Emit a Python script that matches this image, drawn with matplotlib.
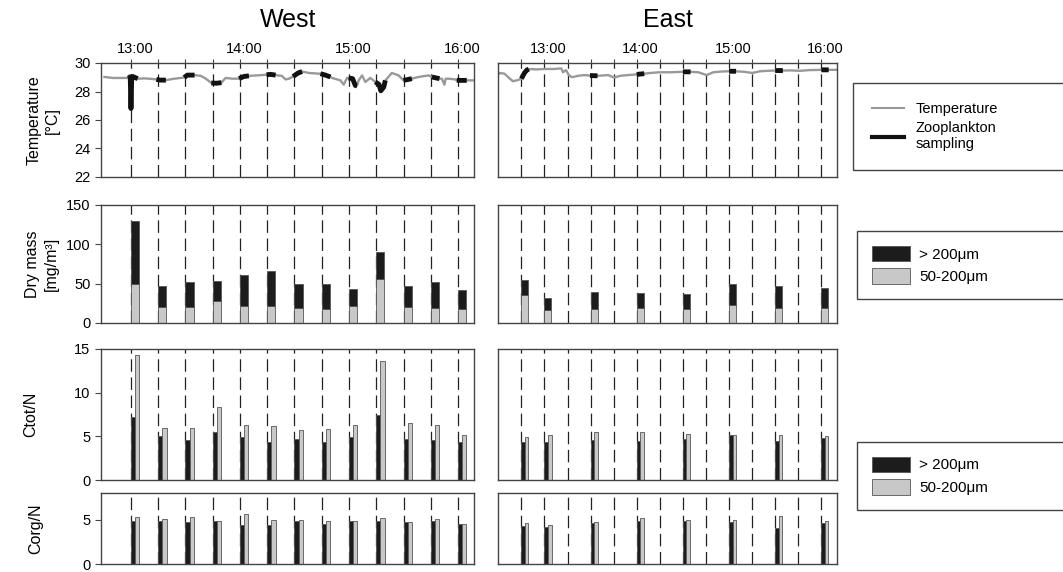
import numpy as np
import matplotlib
matplotlib.use('Agg')
from matplotlib import pyplot as plt
from matplotlib import transforms
from matplotlib.lines import Line2D
from matplotlib.patches import Patch

plt.rcParams['font.family'] = ['Liberation Sans', 'DejaVu Sans']
plt.rcParams['font.size'] = 10

# times in minutes after 12:00
hour_ticks = [60, 120, 180, 240]
hour_labels = ['13:00', '14:00', '15:00', '16:00']
west_grid = [60, 75, 90, 105, 120, 135, 150, 165, 180, 195, 210, 225, 240]
east_grid = [45, 60, 75, 90, 105, 120, 135, 150, 165, 180, 195, 210, 225, 240]
west_samples = [60, 75, 90, 105, 120, 135, 150, 165, 180, 195, 210, 225, 240]
east_samples = [45, 60, 90, 120, 150, 180, 210, 240]
east_tows = [45, 90, 120, 150, 180, 210, 240]   # tows logged on the thermosalinograph
tow_length = 5

# temperature record (deg C)
west_t = [45.4, 50, 55, 58.2, 59.1, 59.6, 60.0, 60.4, 61, 63.7, 68, 74.0, 76, 79.2, 84, 89.3, 91,
          95.0, 98.4, 101.2, 104.2, 107, 109.8, 112.1, 115.8, 119.5, 122, 124.9, 129.5, 134.6,
          137, 139.6, 143, 145.1, 147, 149.2, 152, 154.2, 158, 163.4, 164.3, 167, 169.8, 170.7,
          175.3, 177.1, 178.9, 179.8, 182, 183.5, 184.4, 185.3, 187.2, 189, 191.7, 194.5, 196.5,
          197.5, 199.1, 200, 203.6, 207.3, 210, 214.6, 218.3, 223.8, 225.6, 229.8, 231.1, 232.5,
          233.2, 234.7, 238.4, 239.3, 244.8, 248.5]
west_temp = [29.02, 28.95, 28.95, 28.95, 29.15, 29.0, 26.8, 28.9, 29.05, 28.9, 28.92, 28.85, 28.8,
             28.8, 28.9, 28.98, 29.15, 29.15, 29.1, 28.9, 28.6, 28.58, 28.62, 28.95, 28.9, 28.9,
             29.05, 29.1, 29.13, 29.18, 29.2, 29.15, 29.1, 28.85, 28.9, 29.05, 29.3, 29.4, 29.3,
             29.25, 29.25, 29.15, 29.02, 28.95, 28.78, 28.48, 28.95, 28.95, 28.9, 28.42, 28.4,
             28.78, 29.13, 28.67, 28.95, 28.67, 28.5, 28.05, 28.3, 28.78, 29.3, 29.13, 28.78,
             28.9, 29.02, 29.13, 29.02, 28.9, 28.9, 28.48, 28.9, 28.9, 28.85, 28.78, 28.78, 28.78]
east_t = [30, 31, 34, 37, 39.5, 42.7, 45, 47, 48.5, 49.8, 55, 60, 66, 71, 72, 74, 75.9, 77.9, 81.8,
          85.7, 89.6, 94.5, 101.4, 105.3, 109.2, 114, 120, 124.9, 128.8, 135, 142, 150, 155, 160,
          165.5, 169.8, 175, 180, 184.6, 190, 195.2, 200.2, 205, 210, 215, 220, 226.3, 232, 240,
          244.8, 250]
east_temp = [29.2, 29.3, 29.25, 28.95, 28.72, 28.8, 28.9, 29.3, 29.5, 29.58, 29.55, 29.58, 29.58,
             29.62, 29.35, 29.5, 29.15, 29.0, 29.1, 29.15, 29.12, 29.1, 29.15, 28.98, 29.1, 29.15,
             29.2, 29.25, 29.3, 29.35, 29.35, 29.38, 29.38, 29.35, 29.15, 29.35, 29.4, 29.42, 29.42,
             29.38, 29.3, 29.42, 29.45, 29.47, 29.47, 29.48, 29.45, 29.5, 29.52, 29.52, 29.52]

# dry mass (mg/m3)
west_dm_large = [80, 26.2, 31.6, 26.2, 39.8, 44, 30.9, 30.8, 22, 35.1, 26.6, 32.1, 24.5]
west_dm_small = [50, 20.3, 19.9, 27.5, 21.5, 21.5, 19, 18.2, 21.5, 55.3, 20.7, 19.4, 17.3]
east_dm_large = [19.8, 16.1, 21.6, 19, 19.1, 27.1, 27.9, 25]
east_dm_small = [35.1, 16, 17.7, 19, 17.7, 22.8, 18.6, 19]

# C/N ratios
west_ctot_large = [7.2, 5.0, 4.6, 5.5, 4.9, 4.4, 4.7, 4.4, 4.9, 7.5, 4.7, 4.6, 4.3]
west_ctot_small = [14.3, 6.0, 6.0, 8.4, 6.3, 6.2, 5.7, 5.8, 6.3, 13.6, 6.5, 6.3, 5.2]
east_ctot_large = [4.4, 4.4, 4.6, 4.5, 4.7, 5.1, 4.5, 4.8]
east_ctot_small = [4.9, 5.1, 5.5, 5.5, 5.3, 5.2, 5.1, 5.0]
west_corg_large = [4.8, 4.8, 4.7, 4.8, 4.4, 4.4, 4.9, 4.5, 4.9, 4.8, 4.7, 4.8, 4.5]
west_corg_small = [5.3, 5.1, 5.3, 4.9, 5.6, 5.0, 5.0, 4.8, 4.8, 5.2, 4.7, 5.1, 4.5]
east_corg_large = [4.3, 4.2, 4.6, 4.8, 4.9, 4.7, 4.1, 4.6]
east_corg_small = [4.6, 4.4, 4.7, 5.2, 5.0, 5.0, 5.4, 4.9]

BLACK = '#1c1c1c'
GREY = '#c8c8c8'
EDGE = '#555555'
W, H = 1063, 572


def rect(x0, x1, y0, y1):
    return [x0 / W, 1 - y1 / H, (x1 - x0) / W, (y1 - y0) / H]


fig = plt.figure(figsize=(W / 100, H / 100), dpi=100)

cols = {'west': (101, 474, (43.5, 248.8), west_grid),
        'east': (498, 837, (29.8, 250.2), east_grid)}
rows = [(63, 177), (205, 323), (349, 480), (493, 564)]

# hour labels sit a few pixels right of their tick
label_shift = transforms.ScaledTranslation(4 / 100, 0, fig.dpi_scale_trans)

axes = {}
for side, (x0, x1, xlim, grid) in cols.items():
    for i, (y0, y1) in enumerate(rows):
        ax = fig.add_axes(rect(x0, x1, y0, y1))
        ax.set_xlim(*xlim)
        for t in grid:
            ax.axvline(t, color='#222222', lw=0.9, ls=(0, (10, 4.5)), zorder=0)
        for s in ax.spines.values():
            s.set_color('#444444')
            s.set_linewidth(1.0)
        ax.tick_params(axis='y', length=4, width=0.8, color='#444444', labelsize=10.5)
        if i == 0:
            ax.xaxis.tick_top()
            ax.set_xticks(grid)
            ax.set_xticklabels([hour_labels[hour_ticks.index(t)] if t in hour_ticks else '' for t in grid])
            ax.tick_params(axis='x', length=3, width=0.8, color='#444444', labelsize=10.5, pad=2)
            for lab in ax.get_xticklabels():
                lab.set_transform(lab.get_transform() + label_shift)
        else:
            ax.set_xticks([])
        if side == 'east':
            ax.set_yticks([])
        axes[(side, i)] = ax


def draw_temp(ax, t, temp, tows):
    t = np.array(t)
    temp = np.array(temp)
    ax.plot(t, temp, color='#999999', lw=1.7, zorder=2)
    on_tow = np.zeros(len(t), dtype=bool)
    for s in tows:
        on_tow |= (t >= s - 1) & (t <= s + tow_length)
    ax.plot(t, np.where(on_tow, temp, np.nan), color='#111111', lw=3.5,
            solid_capstyle='butt', zorder=3)
    ax.set_ylim(22, 30)


def draw_stack(ax, times, small, large):
    ax.bar(times, small, width=4.5, align='edge', color=GREY, edgecolor=EDGE, lw=0.6, zorder=2)
    ax.bar(times, large, bottom=small, width=4.5, align='edge', color=BLACK, edgecolor=EDGE,
           lw=0.6, zorder=2)
    ax.set_ylim(0, 150)


def draw_pairs(ax, times, large, small, top):
    times = np.array(times)
    ax.bar(times, large, width=2.3, align='edge', color=BLACK, edgecolor=EDGE, lw=0.6, zorder=2)
    ax.bar(times + 2.3, small, width=2.3, align='edge', color=GREY, edgecolor=EDGE, lw=0.6, zorder=2)
    ax.set_ylim(0, top)


draw_temp(axes[('west', 0)], west_t, west_temp, west_samples)
draw_temp(axes[('east', 0)], east_t, east_temp, east_tows)
draw_stack(axes[('west', 1)], west_samples, west_dm_small, west_dm_large)
draw_stack(axes[('east', 1)], east_samples, east_dm_small, east_dm_large)
draw_pairs(axes[('west', 2)], west_samples, west_ctot_large, west_ctot_small, 15)
draw_pairs(axes[('east', 2)], east_samples, east_ctot_large, east_ctot_small, 15)
draw_pairs(axes[('west', 3)], west_samples, west_corg_large, west_corg_small, 8)
draw_pairs(axes[('east', 3)], east_samples, east_corg_large, east_corg_small, 8)

axes[('west', 0)].set_yticks([22, 24, 26, 28, 30])
axes[('west', 1)].set_yticks([0, 50, 100, 150])
axes[('west', 2)].set_yticks([0, 5, 10, 15])
axes[('west', 3)].set_yticks([0, 5])

axes[('west', 0)].set_ylabel('Temperature\n[°C]', fontsize=11.5, linespacing=1.3, labelpad=10)
axes[('west', 1)].set_ylabel('Dry mass\n[mg/m³]', fontsize=11.5, linespacing=1.3, labelpad=5)
axes[('west', 2)].set_ylabel('Ctot/N', fontsize=11.5, labelpad=26)
axes[('west', 3)].set_ylabel('Corg/N', fontsize=11.5, labelpad=28)

fig.text(288 / W, 1 - 20 / H, 'West', ha='center', va='center', fontsize=18)
fig.text(668 / W, 1 - 20 / H, 'East', ha='center', va='center', fontsize=18)

legend_style = dict(loc='upper left', mode='expand', frameon=True, fancybox=False,
                    edgecolor='#444444', framealpha=1, borderaxespad=0)

leg = fig.legend(handles=[Line2D([], [], color='#999999', lw=1.5),
                          Line2D([], [], color='#111111', lw=3)],
                 labels=['Temperature', 'Zooplankton\nsampling'],
                 bbox_to_anchor=(853 / W, 1 - 83 / H, 240 / W, 0),
                 handlelength=2.2, handletextpad=0.8, fontsize=10.5, borderpad=1.3,
                 labelspacing=0.35, **legend_style)
leg.get_frame().set_linewidth(1.0)

size_handles = [Patch(facecolor=BLACK, edgecolor=EDGE, lw=0.6),
                Patch(facecolor=GREY, edgecolor=EDGE, lw=0.6)]
size_labels = ['> 200μm', '50-200μm']
for top in (231, 442):
    leg = fig.legend(handles=size_handles, labels=size_labels,
                     bbox_to_anchor=(857 / W, 1 - top / H, 240 / W, 0),
                     handlelength=2.5, handleheight=1.2, handletextpad=0.6, fontsize=11,
                     borderpad=0.95, labelspacing=0.45, **legend_style)
    leg.get_frame().set_linewidth(1.0)

fig.savefig('out.png', dpi=100)
